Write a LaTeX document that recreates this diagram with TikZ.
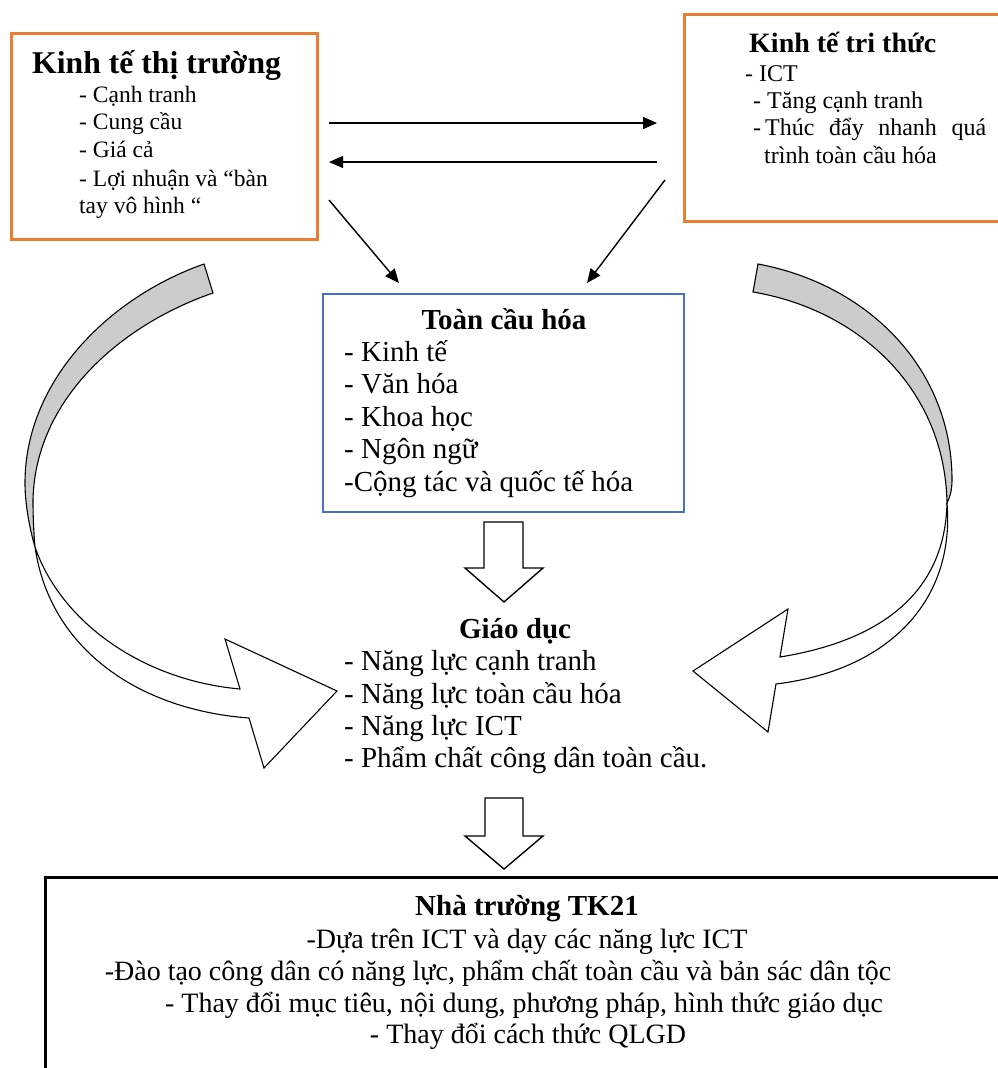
\documentclass[tikz,border=0pt]{standalone}
\usepackage{fontspec}
\setmainfont{Liberation Serif}
\usetikzlibrary{arrows.meta}
\definecolor{borange}{HTML}{ED7D31}
\definecolor{bblue}{HTML}{4472C4}
\definecolor{rgray}{HTML}{CCCCCC}
\begin{document}
\begin{tikzpicture}[x=1pt,y=-1pt,
  obox/.style={draw=borange,line width=2.5pt,anchor=north west,inner sep=0pt},
  bbox/.style={draw=bblue,line width=2pt,anchor=north west,inner sep=0pt},
  kbox/.style={draw=black,line width=2.5pt,anchor=north west,inner sep=0pt},
  txt/.style={inner sep=0pt,anchor=base west},
  ctxt/.style={inner sep=0pt,anchor=base},
  arr/.style={line width=1.4pt,-{Triangle[length=14pt,width=12pt]}},
  band/.style={draw=black,line width=1.1pt,line join=miter},
  blockarrow/.style={draw=black,line width=1.4pt,fill=white,line join=miter}]
\useasboundingbox (0,0) rectangle (997,1068);

% boxes
\node[obox,minimum width=306pt,minimum height=206pt] (ktt) at (10,32) {};
\node[obox,minimum width=420pt,minimum height=207pt] (ktr) at (683,13) {};
\node[bbox,minimum width=361pt,minimum height=218pt] (tch) at (322,293) {};
\node[kbox,minimum width=1060pt,minimum height=260pt] (ntr) at (44,876) {};

% left box text
\node[txt,font=\fontsize{31.7}{37}\selectfont\bfseries] (t1) at (32,73) {Kinh tế thị trường};
\begin{scope}[font=\fontsize{23.5}{27}\selectfont]
\node[txt] (l1) at (79,102) {- Cạnh tranh};
\node[txt] (l2) at (79,129) {- Cung cầu};
\node[txt] (l3) at (79,157) {- Giá cả};
\node[txt] (l4) at (79,186) {- Lợi nhuận và “bàn};
\node[txt] (l5) at (79,213) {tay vô hình “};
\end{scope}

% right box text
\node[txt,font=\fontsize{28}{33}\selectfont\bfseries] (t2) at (749,52) {Kinh tế tri thức};
\begin{scope}[font=\fontsize{24}{28}\selectfont]
\node[txt] (r1) at (745,81) {- ICT};
\node[txt] (r2) at (753,108) {- Tăng cạnh tranh};
\node[txt] (r3) at (753,135) {\hbox to 233pt{-\kern4pt Thúc\hfill đẩy\hfill nhanh\hfill quá}};
\node[txt] (r4) at (764,163) {trình toàn cầu hóa};
\end{scope}

% middle box text
\node[ctxt,font=\fontsize{29}{34}\selectfont\bfseries] (t3) at (504,329) {Toàn cầu hóa};
\begin{scope}[font=\fontsize{29}{34}\selectfont]
\node[txt] (m1) at (344,361) {- Kinh tế};
\node[txt] (m2) at (344,393) {- Văn hóa};
\node[txt] (m3) at (344,426) {- Khoa học};
\node[txt] (m4) at (344,458) {- Ngôn ngữ};
\node[txt] (m5) at (344,491) {-Cộng tác và quốc tế hóa};
\end{scope}

% Giao duc text
\node[ctxt,font=\fontsize{29}{34}\selectfont\bfseries] (t4) at (515,638) {Giáo dục};
\begin{scope}[font=\fontsize{29}{34}\selectfont]
\node[txt] (g1) at (344,670) {- Năng lực cạnh tranh};
\node[txt] (g2) at (344,703) {- Năng lực toàn cầu hóa};
\node[txt] (g3) at (344,735) {- Năng lực ICT};
\node[txt] (g4) at (344,767) {- Phẩm chất công dân toàn cầu.};
\end{scope}

% bottom box text
\node[ctxt,font=\fontsize{29}{34}\selectfont\bfseries] (t5) at (527,915) {Nhà trường TK21};
\begin{scope}[font=\fontsize{28}{33}\selectfont]
\node[ctxt] (b1) at (527,948) {-Dựa trên ICT và dạy các năng lực ICT};
\node[ctxt] (b2) at (498,980) {-Đào tạo công dân có năng lực, phẩm chất toàn cầu và bản sác dân tộc};
\node[ctxt] (b3) at (524,1012) {- Thay đổi mục tiêu, nội dung, phương pháp, hình thức giáo dục};
\node[ctxt] (b4) at (528,1043) {- Thay đổi cách thức QLGD};
\end{scope}

% straight arrows
\coordinate (a1s) at (329,123); \coordinate (a1e) at (657,123);
\coordinate (a2s) at (657,162); \coordinate (a2e) at (329,162);
\coordinate (a3s) at (329,200); \coordinate (a3e) at (399,283);
\coordinate (a4s) at (665,180); \coordinate (a4e) at (587,283);
\draw[arr] (a1s) -- (a1e);
\draw[arr] (a2s) -- (a2e);
\draw[arr] (a3s) -- (a3e);
\draw[arr] (a4s) -- (a4e);

% block arrows down
\draw[blockarrow] (484,522) -- (523,522) -- (523,568) -- (543,568) -- (504,602)
  -- (465,568) -- (484,568) -- cycle;
\draw[blockarrow] (485,798) -- (523,798) -- (523,836) -- (543,836) -- (504,869)
  -- (465,836) -- (485,836) -- cycle;

% left curved arrow
\draw[band,fill=rgray] (204,264) .. controls (110,297) and (25,380) .. (25,483)
  .. controls (25,505) and (30,530) .. (35,547)
  .. controls (34,535) and (33,520) .. (33,500)
  .. controls (35,400) and (120,325) .. (213,293) -- cycle;
\draw[band,fill=white] (35,547) .. controls (60,620) and (140,680) .. (240,689)
  -- (225,639) -- (337,691) -- (264,768) -- (249,718)
  .. controls (140,710) and (50,650) .. (35,547) -- cycle;

% right curved arrow
\draw[band,fill=rgray] (758,264) .. controls (870,285) and (952,370) .. (952,480)
  .. controls (952,490) and (950,497) .. (947,503)
  .. controls (945,390) and (860,310) .. (753,292) -- cycle;
\draw[band,fill=white] (947,503) .. controls (945,590) and (885,640) .. (780,657)
  -- (788,609) -- (693,671) -- (768,732) -- (776,684)
  .. controls (890,670) and (955,600) .. (947,503) -- cycle;
\end{tikzpicture}
\end{document}
